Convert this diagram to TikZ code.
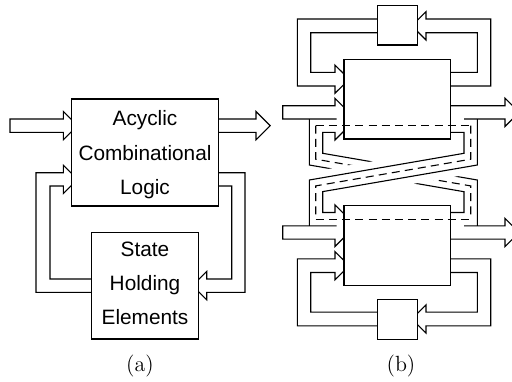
\documentclass[tikz,border=0pt]{standalone}
\usepackage{fontspec}
\setsansfont{Liberation Sans}
\begin{document}
\begin{tikzpicture}[x=0.5pt,y=-0.5pt,
  ln/.style={line width=0.55pt, line join=miter},
  blk/.style={draw, fill=white, line width=0.55pt, inner sep=0pt},
  cutline/.style={line width=0.55pt, dash pattern=on 4pt off 2.6pt},
  lbl/.style={font=\sffamily\fontsize{10.4}{17.1}\selectfont, align=center, inner sep=0pt},
  sublbl/.style={font=\fontsize{11}{13}\selectfont, inner sep=0pt}]
\clip (0,0) rectangle (512,381);

% ---------------- (a) single sequential circuit ----------------
% input and output
\draw[ln] (63.3,119) -- (10,119) -- (10,132.3) -- (63.3,132.3) -- (63.3,139.8)
  -- (77.45,125.65) -- (63.3,111.5) -- cycle;
\draw[ln] (218.3,119) -- (256,119) -- (256,111.5) -- (270.15,125.65) -- (256,139.8)
  -- (256,132.3) -- (218.3,132.3);
% next state to the state elements
\draw[ln] (218.3,172.7) -- (245,172.7) -- (245,292.3) -- (206.7,292.3) -- (206.7,299.8)
  -- (192.55,285.65) -- (206.7,271.5) -- (206.7,279) -- (231.7,279) -- (231.7,186) -- (218.3,186);
% current state back to the logic
\draw[ln] (91.7,279) -- (50,279) -- (50,186) -- (63.3,186) -- (63.3,193.5)
  -- (77.45,179.35) -- (63.3,165.2) -- (63.3,172.7) -- (36,172.7) -- (36,292.3) -- (91.7,292.3);

\node[blk, minimum width=73.3pt, minimum height=53.5pt] (logic) at (145,152.5) {};
\node[blk, minimum width=53.3pt, minimum height=53.35pt] (state) at (145,285.65) {};
\node[lbl] (logictext) at (145,154.7) {Acyclic\\Combinational\\Logic};
\node[lbl] (statetext) at (145,283.5) {State\\Holding\\Elements};
\node[sublbl] (capa) at (140,365.5) {(a)};

% ---------------- (b) two cross-coupled copies ----------------
% upper copy: local loop
\draw[ln] (377.3,19) -- (297.3,19) -- (297.3,86) -- (335,86) -- (335,93.25)
  -- (349.15,79.15) -- (335,65.05) -- (335,72.3) -- (310.7,72.3) -- (310.7,32.7) -- (377.3,32.7);
\draw[ln] (450.7,86) -- (490.7,86) -- (490.7,19) -- (426,19) -- (426,11.7)
  -- (411.85,25.85) -- (426,40) -- (426,32.7) -- (477.3,32.7) -- (477.3,72.3) -- (450.7,72.3);
% upper copy: input and output
\draw[ln] (336.7,119) -- (282.7,119) -- (282.7,105.7) -- (335,105.7) -- (335,98.3) -- (349.05,112.35);
\draw[ln] (450.7,105.7) -- (505,105.7) -- (505,98.2) -- (519.15,112.35) -- (505,126.5)
  -- (505,119) -- (464,119);

% lower copy: local loop
\draw[ln] (377.3,325.8) -- (297.3,325.8) -- (297.3,258.8) -- (335,258.8) -- (335,251.55)
  -- (349.15,265.65) -- (335,279.75) -- (335,272.5) -- (310.7,272.5) -- (310.7,312.1) -- (377.3,312.1);
\draw[ln] (450.7,258.8) -- (490.7,258.8) -- (490.7,325.8) -- (426,325.8) -- (426,333.1)
  -- (411.85,318.95) -- (426,304.8) -- (426,312.1) -- (477.3,312.1) -- (477.3,272.5) -- (450.7,272.5);
% lower copy: input and output
\draw[ln] (336.7,225.8) -- (282.7,225.8) -- (282.7,239.1) -- (335,239.1) -- (335,246.5) -- (349.05,232.45);
\draw[ln] (450.7,239.1) -- (505,239.1) -- (505,246.6) -- (519.15,232.45) -- (505,218.3)
  -- (505,225.8) -- (464,225.8);

% channel from the lower copy up into the upper copy (passes underneath)
\draw[ln] (309.3,119) -- (309.3,165) -- (464,191.7) -- (464,212.5) -- (450.7,212.5);
\draw[ln] (349.3,125.7) -- (335,140) -- (335,132.3) -- (322.7,132.3) -- (322.7,153.3)
  -- (477.3,180) -- (477.3,225.8);
\draw[cutline] (315.7,125.7) -- (315.7,159.2) -- (470.7,185.9) -- (470.7,219.3);

% gap around the crossing band
\fill[white] (464,153.3) -- (309.3,180) -- (322.7,191.6) -- (477.3,165) -- cycle;
\draw[white, line width=7.7pt, line join=round]
  (464,153.3) -- (309.3,180) -- (322.7,191.6) -- (477.3,165) -- cycle;

% channel from the upper copy down into the lower copy (on top)
\draw[ln] (450.7,132.3) -- (464,132.3) -- (464,153.3) -- (309.3,180) -- (309.3,225.8);
\draw[ln] (477.3,119) -- (477.3,165) -- (322.7,191.6) -- (322.7,212.5) -- (335,212.5)
  -- (335,204.8) -- (349.3,219.1);
\draw[cutline] (470.7,125.7) -- (470.7,159.2) -- (315.7,185.9) -- (315.7,219.3);

% blocks
\node[blk, minimum width=20.2pt, minimum height=19.65pt] (topreg) at (397.5,25.35) {};
\node[blk, minimum width=53.35pt, minimum height=39.85pt] (toplogic) at (397.35,99.15) {};
\node[blk, minimum width=53.35pt, minimum height=39.85pt] (botlogic) at (397.35,245.65) {};
\node[blk, minimum width=20.2pt, minimum height=19.65pt] (botreg) at (397.5,319.45) {};

% cut lines through the logic blocks
\draw[cutline] (315.7,125.7) -- (470.7,125.7);
\draw[cutline] (315.7,219.3) -- (470.7,219.3);

\node[sublbl] (capb) at (401,365.5) {(b)};
\end{tikzpicture}
\end{document}
